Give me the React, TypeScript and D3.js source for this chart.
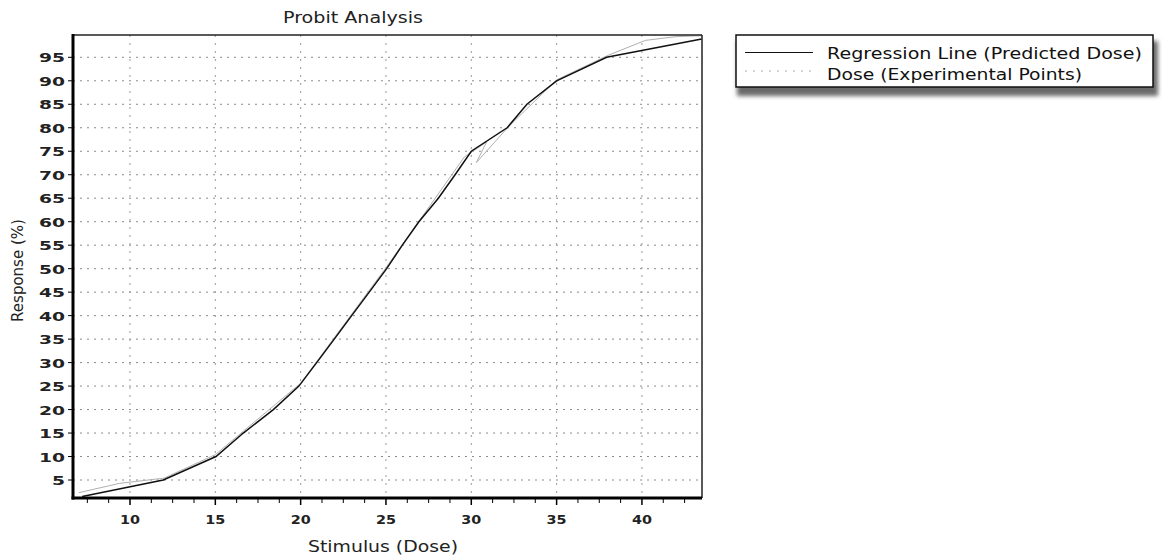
import React from "react";
import * as d3 from "d3";

// Regression line (predicted dose) vertices: dose vs response (%)
const regDose = [7.2, 11.95, 15.04, 16.64, 18.4, 19.9, 20.94, 21.97, 22.99, 24.02, 25.04, 25.96, 26.93, 28.07, 29.05, 30.0, 32.1, 33.26, 35.0, 37.93, 43.5];
const regResp = [1.5, 5, 10, 15, 20, 25, 30, 35, 40, 45, 50, 55, 60, 65, 70, 75, 80, 85, 90, 95, 98.9];

// Experimental points (faint line)
const expDose = [7.0, 9.4, 12.0, 15.0, 20.0, 25.0, 29.6, 30.9, 30.3, 32.2, 35.0, 38.0, 40.2, 42.0, 43.5];
const expResp = [2.3, 4.3, 5.4, 10.4, 25.6, 50.2, 73.8, 77.0, 72.6, 80.3, 90.2, 95.4, 98.6, 99.4, 99.6];

const xTicks = [10, 15, 20, 25, 30, 35, 40];
const xMinorTicks = [7.5, 8.75, 11.25, 12.5, 13.75, 16.25, 17.5, 18.75, 21.25, 22.5, 23.75, 26.25, 27.5, 28.75, 31.25, 32.5, 33.75, 36.25, 37.5, 38.75, 41.25, 42.5];
const yTicks = [5, 10, 15, 20, 25, 30, 35, 40, 45, 50, 55, 60, 65, 70, 75, 80, 85, 90, 95];

const titleText = "Probit Analysis";
const xTitle = "Stimulus (Dose)";
const yTitle = "Response (%)";
const legendLabels = ["Regression Line (Predicted Dose)", "Dose (Experimental Points)"];

export default function App() {
  const W = 1162, H = 560;
  const L = 73, R = 702, T = 35, B = 498;
  const x = d3.scaleLinear().domain([6.66, 43.52]).range([L, R]);
  const y = d3.scaleLinear().domain([1.17, 99.75]).range([B, T]);

  const line = d3.line<[number, number]>().x(d => x(d[0])).y(d => y(d[1]));
  const regPts: [number, number][] = regDose.map((d, i) => [d, regResp[i]]);
  const expPts: [number, number][] = expDose.map((d, i) => [d, expResp[i]]);

  const font = "'DejaVu Sans', Verdana, sans-serif";

  return (
    <svg width={W} height={H} style={{ position: "absolute", left: 0, top: 0, background: "#fff" }} fontFamily={font}>
      <defs>
        <filter id="blur" x="-5%" y="-30%" width="110%" height="160%">
          <feGaussianBlur stdDeviation="2" />
        </filter>
        <clipPath id="plotclip">
          <rect x={L} y={T} width={R - L} height={B - T} />
        </clipPath>
      </defs>
      <rect x={0} y={0} width={W} height={H} fill="#fff" />

      {/* Title */}
      <text x={283} y={23} fontSize={15} fill="#222" textLength={140} lengthAdjust="spacingAndGlyphs">{titleText}</text>

      {/* Grid */}
      {yTicks.map(t => (
        <line key={"gy" + t} x1={L} x2={R} y1={y(t)} y2={y(t)} stroke="#8a8a8a" strokeWidth={1} strokeDasharray="2,5" />
      ))}
      {xTicks.map(t => (
        <line key={"gx" + t} x1={x(t)} x2={x(t)} y1={T} y2={B} stroke="#9a9a9a" strokeWidth={1} strokeDasharray="2,6" />
      ))}

      {/* Data */}
      <g clipPath="url(#plotclip)">
        <path d={line(expPts) || ""} fill="none" stroke="#b0b0b0" strokeWidth={1} />
        <path d={line(regPts) || ""} fill="none" stroke="#111" strokeWidth={1.5} />
      </g>

      {/* Borders */}
      <line x1={L} x2={R} y1={T} y2={T} stroke="#222" strokeWidth={1.5} />
      <line x1={R} x2={R} y1={T} y2={B} stroke="#222" strokeWidth={1.5} />
      <line x1={L} x2={L} y1={T - 1} y2={B + 1.5} stroke="#000" strokeWidth={3} />
      <line x1={L - 1.5} x2={R} y1={B} y2={B} stroke="#000" strokeWidth={3} />

      {/* Y ticks & labels */}
      {yTicks.map(t => (
        <g key={"yt" + t}>
          <line x1={L - 5} x2={L} y1={y(t)} y2={y(t)} stroke="#000" strokeWidth={1} />
          <text x={65} y={y(t) + 5} fontSize={13} fontWeight="bold" fill="#222" textAnchor="end"
            textLength={String(t).length * 13} lengthAdjust="spacingAndGlyphs">{t}</text>
        </g>
      ))}

      {/* X ticks & labels */}
      {xMinorTicks.map(t => (
        <line key={"xm" + t} x1={x(t)} x2={x(t)} y1={B} y2={B + 5} stroke="#000" strokeWidth={1} />
      ))}
      {xTicks.map(t => (
        <g key={"xt" + t}>
          <line x1={x(t)} x2={x(t)} y1={B} y2={B + 7} stroke="#000" strokeWidth={1.5} />
          <text x={x(t)} y={524} fontSize={13} fontWeight="bold" fill="#222" textAnchor="middle"
            textLength={20} lengthAdjust="spacingAndGlyphs">{t}</text>
        </g>
      ))}

      {/* Axis titles */}
      <text x={308} y={552} fontSize={15} fill="#222" textLength={150} lengthAdjust="spacingAndGlyphs">{xTitle}</text>
      <text transform={`translate(23,${(T + B) / 2 + 4}) rotate(-90)`} fontSize={15} fill="#222" textAnchor="middle">{yTitle}</text>

      {/* Legend */}
      <rect x={737} y={41} width={421} height={55} fill="#6a6a6a" filter="url(#blur)" />
      <rect x={736} y={35} width={417} height={52} fill="#fff" stroke="#111" strokeWidth={1.5} />
      <line x1={745} x2={813} y1={52.5} y2={52.5} stroke="#111" strokeWidth={1} />
      <line x1={745} x2={813} y1={71} y2={71} stroke="#aaa" strokeWidth={1} strokeDasharray="2,6" />
      <text x={827} y={59} fontSize={15} fill="#111" textLength={315} lengthAdjust="spacingAndGlyphs">{legendLabels[0]}</text>
      <text x={827} y={80} fontSize={15} fill="#111" textLength={255} lengthAdjust="spacingAndGlyphs">{legendLabels[1]}</text>
    </svg>
  );
}
